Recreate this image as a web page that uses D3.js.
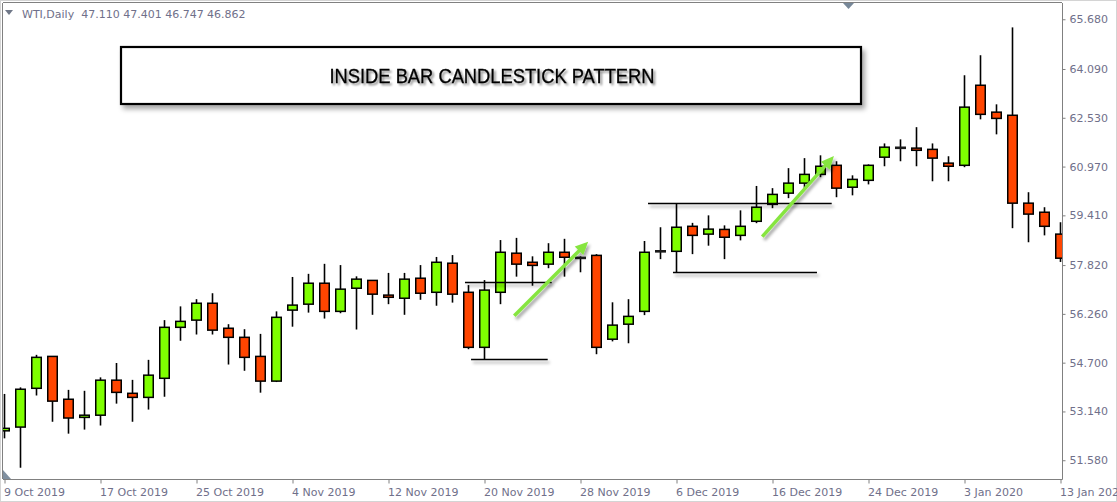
<!DOCTYPE html>
<html>
<head>
<meta charset="utf-8">
<script src="https://cdn.jsdelivr.net/npm/d3@7"></script>
<style>
  html, body { margin: 0; padding: 0; background: #fff; }
  svg { display: block; }
</style>
</head>
<body>
<div id="chart"></div>
<script>
// WTI daily candles
var dates = ['2019-10-09','2019-10-10','2019-10-11','2019-10-14','2019-10-15','2019-10-16','2019-10-17',
  '2019-10-18','2019-10-21','2019-10-22','2019-10-23','2019-10-24','2019-10-25','2019-10-28','2019-10-29',
  '2019-10-30','2019-10-31','2019-11-01','2019-11-04','2019-11-05','2019-11-06','2019-11-07','2019-11-08',
  '2019-11-11','2019-11-12','2019-11-13','2019-11-14','2019-11-15','2019-11-18','2019-11-19','2019-11-20',
  '2019-11-21','2019-11-22','2019-11-25','2019-11-26','2019-11-27','2019-11-28','2019-11-29','2019-12-02',
  '2019-12-03','2019-12-04','2019-12-05','2019-12-06','2019-12-09','2019-12-10','2019-12-11','2019-12-12',
  '2019-12-13','2019-12-16','2019-12-17','2019-12-18','2019-12-19','2019-12-20','2019-12-23','2019-12-24',
  '2019-12-26','2019-12-27','2019-12-30','2019-12-31','2020-01-02','2020-01-03','2020-01-06','2020-01-07',
  '2020-01-08','2020-01-09','2020-01-10','2020-01-13'];

var opens  = [52.52,52.64,53.88,54.90,53.53,52.95,53.02,54.14,53.72,53.59,54.20,55.83,56.06,56.60,55.80,55.51,54.90,
  54.11,56.38,56.57,57.24,56.34,57.08,57.33,56.86,56.76,57.40,56.95,57.88,56.95,55.19,56.95,58.20,57.91,57.85,
  58.23,58.05,58.13,55.45,55.93,56.34,58.26,58.26,59.06,58.81,58.96,58.77,59.22,59.76,60.12,60.44,60.72,61.01,
  60.31,60.53,61.27,61.57,61.56,61.52,61.08,61.01,63.57,62.71,62.61,59.80,59.51,58.81];
var highs  = [53.70,53.91,54.95,54.91,53.83,53.80,54.23,54.69,54.15,54.79,56.06,56.50,56.73,56.92,55.93,55.77,55.62,
  56.34,57.44,57.54,57.86,57.82,57.46,57.34,57.57,57.57,57.82,58.08,58.14,57.18,57.34,58.62,58.69,58.10,58.52,
  58.66,58.10,58.17,56.63,56.73,58.59,59.03,59.80,59.17,59.41,59.09,59.57,60.35,60.28,60.92,61.24,61.33,61.14,
  60.69,61.04,61.71,61.84,62.23,61.71,61.30,63.89,64.53,62.96,65.42,60.15,59.67,59.19];
var lows   = [52.28,51.34,53.65,52.81,52.43,52.56,52.69,53.39,52.81,53.20,53.61,55.40,55.60,55.60,54.64,54.44,53.74,
  54.08,55.85,56.30,56.11,56.28,55.76,56.23,56.57,56.23,56.71,56.52,56.62,55.13,54.81,56.57,57.45,57.16,57.72,
  57.45,57.59,54.97,55.38,55.32,56.22,58.01,57.59,58.17,58.44,58.01,58.61,59.16,59.64,59.96,60.28,60.63,59.99,
  60.05,60.40,60.98,61.14,60.98,60.50,60.50,60.95,62.48,62.00,59.00,58.55,58.77,57.92];
var closes = [52.60,53.85,54.87,53.47,52.93,53.02,54.14,53.75,53.59,54.30,55.83,56.02,56.60,55.74,55.51,54.87,54.11,
  56.15,56.54,57.24,56.34,57.05,57.37,56.89,56.79,57.37,56.92,57.91,56.89,55.19,57.02,58.23,57.85,57.81,58.23,
  58.07,58.05,55.19,55.90,56.18,58.23,58.26,59.03,58.77,58.97,58.71,59.06,59.67,60.08,60.44,60.72,60.98,60.28,
  60.56,61.01,61.59,61.57,61.49,61.24,60.98,62.87,62.64,62.51,59.80,59.45,59.06,58.04];

// price scale labels and date labels (every 6th bar)
var priceTicks = [51.58, 53.14, 54.70, 56.26, 57.82, 59.41, 60.97, 62.53, 64.09, 65.68];
var dateTicks = [0, 6, 12, 18, 24, 30, 36, 42, 48, 54, 60, 66];

// hand drawn annotations, in bar index / price units
var levelLines = [
  {from: 28.78, to: 34.2, price: 57.29},
  {from: 29.16, to: 33.95, price: 54.81},
  {from: 40.22, to: 51.7, price: 59.80},
  {from: 41.78, to: 50.78, price: 57.59}
];
var arrows = [
  {i1: 31.86, p1: 56.20, i2: 36.48, p2: 58.57},
  {i1: 47.36, p1: 58.73, i2: 51.84, p2: 61.31}
];
var headerText = 'WTI,Daily  47.110 47.401 46.747 46.862';
var titleText = 'INSIDE BAR CANDLESTICK PATTERN';

var W = 1117, H = 502;
var plotL = 3, plotT = 3, plotR = 1062, plotB = 479;

var svg = d3.select('#chart').append('svg').attr('width', W).attr('height', H);
svg.append('rect').attr('width', W).attr('height', H).attr('fill', '#fff');

var defs = svg.append('defs');
defs.append('clipPath').attr('id', 'plotclip')
  .append('rect').attr('x', plotL).attr('y', plotT).attr('width', plotR - plotL).attr('height', plotB - plotT);
// shadows in user space so flat horizontal lines still get one
var sh = defs.append('filter').attr('id', 'shadow').attr('filterUnits', 'userSpaceOnUse')
  .attr('x', 0).attr('y', 0).attr('width', W).attr('height', H);
sh.append('feDropShadow').attr('dx', 2).attr('dy', 3).attr('stdDeviation', 1.5)
  .attr('flood-color', '#000').attr('flood-opacity', 0.35);
var shText = defs.append('filter').attr('id', 'textshadow').attr('filterUnits', 'userSpaceOnUse')
  .attr('x', 0).attr('y', 0).attr('width', W).attr('height', H);
shText.append('feDropShadow').attr('dx', 2).attr('dy', 2).attr('stdDeviation', 1)
  .attr('flood-color', '#000').attr('flood-opacity', 0.45);
var shBox = defs.append('filter').attr('id', 'boxshadow').attr('filterUnits', 'userSpaceOnUse')
  .attr('x', 0).attr('y', 0).attr('width', W).attr('height', H);
shBox.append('feDropShadow').attr('dx', 3).attr('dy', 4).attr('stdDeviation', 2.5)
  .attr('flood-color', '#000').attr('flood-opacity', 0.35);

var x = d3.scaleLinear().domain([0, dates.length - 1]).range([4.5, 1060.5]);
var y = d3.scaleLinear().domain([50.98, 66.20]).range([plotB, plotT]);

var parse = d3.timeParse('%Y-%m-%d');
var fmt = d3.timeFormat('%-d %b %Y');

// outer window frame + plot frame
svg.append('rect').attr('x', 0.5).attr('y', 0.5).attr('width', W - 1).attr('height', H - 1)
  .attr('fill', 'none').attr('stroke', '#d4d4d4');
svg.append('line').attr('x1', plotL - 0.5).attr('x2', plotL - 0.5).attr('y1', plotT).attr('y2', plotB)
  .attr('stroke', '#808080');
svg.append('line').attr('x1', plotL).attr('x2', plotR).attr('y1', plotT - 0.5).attr('y2', plotT - 0.5)
  .attr('stroke', '#808080');

// ---- axes ----
var yAxis = d3.axisRight(y).tickValues(priceTicks).tickFormat(d3.format('.3f')).tickSize(3).tickPadding(4);
var gy = svg.append('g').attr('transform', 'translate(' + (plotR + 0.5) + ',0)').call(yAxis);
gy.select('.domain').attr('stroke', '#808080').attr('d', 'M0,' + plotT + 'V' + (plotB + 0.5));
gy.selectAll('.tick line').attr('stroke', '#808080');
gy.selectAll('.tick text').attr('fill', '#70708a').attr('font-family', 'DejaVu Sans').attr('font-size', 11);

var xAxis = d3.axisBottom(x).tickValues(dateTicks).tickFormat(function(i) { return fmt(parse(dates[i])); })
  .tickSize(4).tickPadding(5);
var gx = svg.append('g').attr('transform', 'translate(0,' + (plotB + 0.5) + ')').call(xAxis);
gx.select('.domain').attr('stroke', '#808080').attr('d', 'M' + plotL + ',0H' + (plotR + 0.5));
gx.selectAll('.tick line').attr('stroke', '#808080');
gx.selectAll('.tick text').attr('fill', '#70708a').attr('font-family', 'DejaVu Sans').attr('font-size', 11)
  .attr('text-anchor', 'start').attr('dx', -1);

// ---- candles ----
var candles = dates.map(function(d, i) {
  return {i: i, date: d, o: opens[i], h: highs[i], l: lows[i], c: closes[i]};
});

var plot = svg.append('g').attr('clip-path', 'url(#plotclip)');

plot.selectAll('.wick').data(candles).enter().append('line')
  .attr('class', 'wick')
  .attr('x1', function(d) { return x(d.i); })
  .attr('x2', function(d) { return x(d.i); })
  .attr('y1', function(d) { return y(d.h); })
  .attr('y2', function(d) { return y(d.l); })
  .attr('stroke', '#000').attr('stroke-width', 1.6);

var bodyW = 9.5;
plot.selectAll('.body').data(candles.filter(function(d) { return d.o !== d.c; })).enter().append('rect')
  .attr('class', 'body')
  .attr('x', function(d) { return x(d.i) - bodyW / 2; })
  .attr('y', function(d) { return y(Math.max(d.o, d.c)); })
  .attr('width', bodyW)
  .attr('height', function(d) { return Math.abs(y(d.o) - y(d.c)); })
  .attr('fill', function(d) { return d.c > d.o ? '#7fff00' : '#ff4500'; })
  .attr('stroke', '#000').attr('stroke-width', 1.5);

// open == close: flat dash
plot.selectAll('.doji').data(candles.filter(function(d) { return d.o === d.c; })).enter().append('line')
  .attr('class', 'doji')
  .attr('x1', function(d) { return x(d.i) - 5.5; })
  .attr('x2', function(d) { return x(d.i) + 5.5; })
  .attr('y1', function(d) { return y(d.c); })
  .attr('y2', function(d) { return y(d.c); })
  .attr('stroke', '#1a1a1a').attr('stroke-width', 2.6);

// ---- annotations ----
plot.selectAll('.level').data(levelLines).enter().append('line')
  .attr('class', 'level')
  .attr('x1', function(d) { return x(d.from); })
  .attr('x2', function(d) { return x(d.to); })
  .attr('y1', function(d) { return Math.round(y(d.price)) + 0.5; })
  .attr('y2', function(d) { return Math.round(y(d.price)) + 0.5; })
  .attr('stroke', '#000').attr('stroke-width', 1.6)
  .attr('filter', 'url(#shadow)');

var arrowCol = '#86e53f';
arrows.forEach(function(a) {
  var x1 = x(a.i1), y1 = y(a.p1), x2 = x(a.i2), y2 = y(a.p2);
  var ang = Math.atan2(y2 - y1, x2 - x1);
  var headL = 13, headW = 6;
  var bx = x2 - headL * Math.cos(ang), by = y2 - headL * Math.sin(ang);
  var g = plot.append('g').attr('filter', 'url(#shadow)');
  g.append('line')
    .attr('x1', x1).attr('y1', y1).attr('x2', bx + 2 * Math.cos(ang)).attr('y2', by + 2 * Math.sin(ang))
    .attr('stroke', arrowCol).attr('stroke-width', 3.5);
  var px = -Math.sin(ang) * headW, py = Math.cos(ang) * headW;
  g.append('path')
    .attr('d', 'M' + x2 + ',' + y2 + 'L' + (bx + px) + ',' + (by + py) + 'L' + (bx - px) + ',' + (by - py) + 'Z')
    .attr('fill', arrowCol);
});

// title box
svg.append('rect').attr('x', 121).attr('y', 47).attr('width', 740).attr('height', 57)
  .attr('fill', '#fff').attr('stroke', '#000').attr('stroke-width', 2.2)
  .attr('filter', 'url(#boxshadow)');
svg.append('text').attr('x', 492).attr('y', 83)
  .attr('text-anchor', 'middle')
  .attr('font-family', 'Liberation Sans, Arial, sans-serif').attr('font-size', 20)
  .attr('textLength', 325).attr('lengthAdjust', 'spacingAndGlyphs')
  .attr('fill', '#000').attr('stroke', '#000').attr('stroke-width', 0.3)
  .attr('filter', 'url(#textshadow)')
  .text(titleText);

// header
svg.append('path').attr('d', 'M5,10L13,10L9,15Z').attr('fill', '#707888');
svg.append('text').attr('x', 22).attr('y', 18)
  .attr('font-family', 'DejaVu Sans').attr('font-size', 11).attr('fill', '#70708a')
  .attr('xml:space', 'preserve').style('white-space', 'pre')
  .text(headerText);

// small markers: chart shift triangle (top) and corner mark (bottom left)
svg.append('path').attr('d', 'M843,3L854,3L848.5,9Z').attr('fill', '#778899');
svg.append('path').attr('d', 'M3,470L3,479L11,479Z').attr('fill', '#8090a0');
</script>
</body>
</html>
